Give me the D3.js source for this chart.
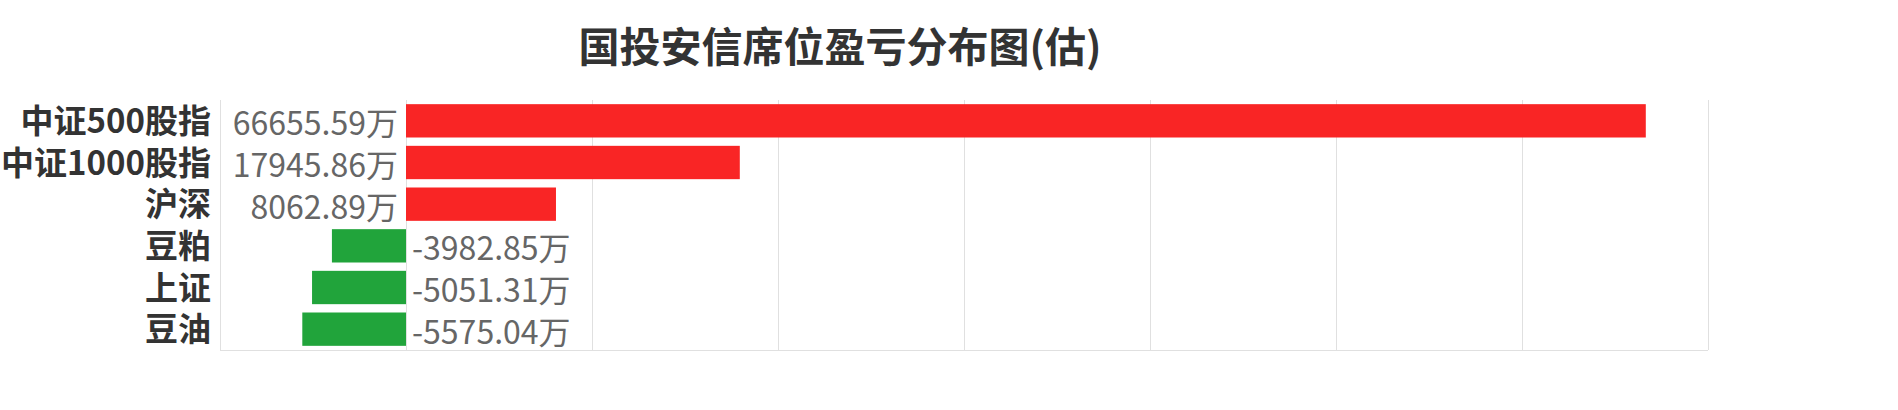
<!DOCTYPE html>
<html>
<head>
<meta charset="utf-8">
<script src="https://cdn.jsdelivr.net/npm/d3@7"></script>
<style>
  html, body { margin: 0; padding: 0; background: #fff; }
  svg { display: block; }
</style>
</head>
<body>
<svg id="chart"></svg>
<script>
const categories = ['中证500股指', '中证1000股指', '沪深', '豆粕', '上证', '豆油'];
const values = [66655.59, 17945.86, 8062.89, -3982.85, -5051.31, -5575.04];
const xTicks = [-10000, 0, 10000, 20000, 30000, 40000, 50000, 60000, 70000];
const titleText = '国投安信席位盈亏分布图(估)';
const unit = '万';

const W = 1898, H = 410;
const MARGIN = { top: 100, left: 220, right: 190, bottom: 60 };
const WIDTH = W - MARGIN.left - MARGIN.right;
const HEIGHT = H - MARGIN.top - MARGIN.bottom;
const FONT = '"Noto Sans CJK SC", "Noto Sans", sans-serif';

const data = categories.map((c, i) => ({ name: c, value: values[i] }));

const svg = d3.select('#chart').attr('width', W).attr('height', H);

const x = d3.scaleLinear()
    .domain([xTicks[0], xTicks[xTicks.length - 1]])
    .range([0, WIDTH]);

const y = d3.scaleBand()
    .domain(categories)
    .range([0, HEIGHT])
    .paddingInner(0.2)
    .paddingOuter(0.1);

svg.append('text')
    .attr('x', 840)
    .attr('y', 62)
    .attr('text-anchor', 'middle')
    .style('font-family', FONT)
    .style('font-size', '41px')
    .style('font-weight', 'bold')
    .style('fill', '#333')
    .text(titleText);

const g = svg.append('g')
    .attr('transform', `translate(${MARGIN.left},${MARGIN.top})`);

// vertical grid
g.append('g')
    .call(d3.axisBottom(x).tickValues(xTicks).tickSize(HEIGHT).tickFormat(''))
    .call(s => s.select('.domain').remove())
    .selectAll('line')
    .attr('stroke', '#e0e0e0')
    .attr('stroke-width', 1);

// bottom axis line
g.append('line')
    .attr('x1', 0).attr('x2', WIDTH)
    .attr('y1', HEIGHT + 0.5).attr('y2', HEIGHT + 0.5)
    .attr('stroke', '#e0e0e0');

g.selectAll('rect.bar')
    .data(data)
    .join('rect')
    .attr('class', 'bar')
    .attr('x', d => x(Math.min(0, d.value)))
    .attr('y', d => y(d.name))
    .attr('width', d => Math.abs(x(d.value) - x(0)))
    .attr('height', y.bandwidth())
    .attr('fill', d => d.value >= 0 ? '#f92525' : '#21a43b');

// value labels next to the zero line
g.selectAll('text.val')
    .data(data)
    .join('text')
    .attr('class', 'val')
    .attr('x', d => d.value >= 0 ? x(0) - 8 : x(0) + 6)
    .attr('y', d => y(d.name) + y.bandwidth() / 2)
    .attr('dy', '0.45em')
    .attr('text-anchor', d => d.value >= 0 ? 'end' : 'start')
    .style('font-family', FONT)
    .style('font-size', '32px')
    .style('fill', '#666')
    .text(d => d.value.toFixed(2) + unit);

// category labels
g.append('g')
    .call(d3.axisLeft(y).tickSize(0).tickPadding(9))
    .call(s => s.select('.domain').remove())
    .selectAll('text')
    .attr('dy', '0.37em')
    .style('font-family', FONT)
    .style('font-size', '33px')
    .style('font-weight', 'bold')
    .style('fill', '#333');
</script>
</body>
</html>
